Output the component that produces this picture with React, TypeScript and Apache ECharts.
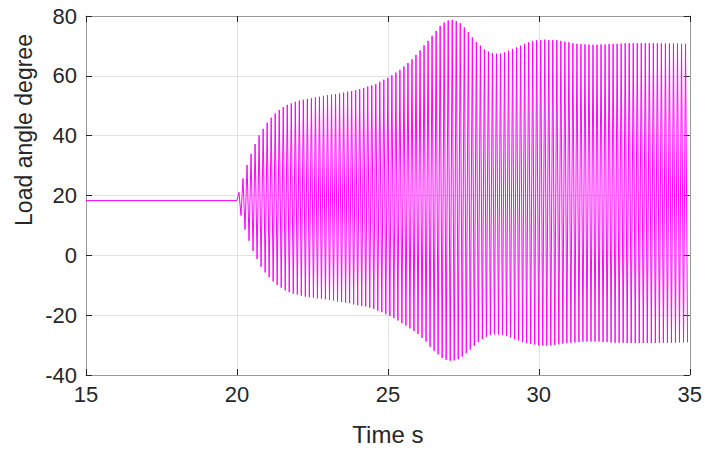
import React, { useEffect, useRef } from "react";
import * as echarts from "echarts";

// Steady state before the disturbance (time s, degrees)
const steadyTimes = [15, 20.0];
const steadyValues = [18.3, 18.3];

// Upper peaks of the oscillation (time s)
const peakTimes = [
  20.068, 20.201, 20.335, 20.468, 20.601, 20.734, 20.868, 21.001, 21.134, 21.267,
  21.401, 21.534, 21.667, 21.8, 21.934, 22.067, 22.2, 22.333, 22.467, 22.6,
  22.733, 22.866, 23.0, 23.133, 23.266, 23.4, 23.533, 23.666, 23.799, 23.933,
  24.066, 24.199, 24.332, 24.466, 24.599, 24.732, 24.865, 24.999, 25.132, 25.265,
  25.398, 25.532, 25.665, 25.798, 25.931, 26.065, 26.198, 26.331, 26.464, 26.598,
  26.731, 26.864, 26.998, 27.131, 27.264, 27.397, 27.531, 27.664, 27.797, 27.93,
  28.064, 28.197, 28.33, 28.463, 28.597, 28.73, 28.863, 28.996, 29.13, 29.263,
  29.396, 29.529, 29.663, 29.796, 29.929, 30.063, 30.196, 30.329, 30.462, 30.596,
  30.729, 30.862, 30.995, 31.129, 31.262, 31.395, 31.528, 31.662, 31.795, 31.928,
  32.061, 32.195, 32.328, 32.461, 32.594, 32.728, 32.861, 32.994, 33.128, 33.261,
  33.394, 33.527, 33.661, 33.794, 33.927, 34.06, 34.194, 34.327, 34.46, 34.593,
  34.727, 34.86,
];
// Upper peak values (degree)
const peakValues = [
  21.1, 25.7, 30.2, 33.9, 37.2, 40.1, 42.3, 44.3, 46.0, 47.4,
  48.6, 49.5, 50.3, 50.8, 51.3, 51.7, 52.0, 52.3, 52.5, 52.8,
  53.0, 53.3, 53.5, 53.7, 53.9, 54.1, 54.4, 54.7, 54.9, 55.2,
  55.6, 55.9, 56.4, 56.8, 57.2, 58.0, 58.7, 59.3, 60.2, 61.1,
  62.0, 63.1, 64.3, 65.5, 67.0, 68.5, 70.2, 71.7, 73.4, 75.0,
  76.7, 77.8, 78.5, 78.7, 78.3, 77.6, 76.2, 74.6, 72.9, 71.3,
  70.1, 68.8, 68.1, 67.6, 67.4, 67.5, 67.8, 68.4, 69.0, 69.5,
  70.1, 70.7, 71.2, 71.6, 71.9, 72.0, 72.1, 72.0, 72.0, 71.9,
  71.7, 71.4, 71.2, 70.9, 70.7, 70.6, 70.5, 70.4, 70.4, 70.4,
  70.5, 70.5, 70.6, 70.7, 70.7, 70.8, 70.9, 70.9, 70.9, 70.9,
  70.9, 70.9, 70.9, 70.9, 70.9, 70.8, 70.8, 70.8, 70.8, 70.8,
  70.7, 70.7,
];

// Lower troughs of the oscillation (time s)
const troughTimes = [
  20.134, 20.267, 20.401, 20.534, 20.667, 20.8, 20.934, 21.067, 21.2, 21.333,
  21.467, 21.6, 21.733, 21.866, 22.0, 22.133, 22.266, 22.399, 22.533, 22.666,
  22.799, 22.932, 23.066, 23.199, 23.332, 23.466, 23.599, 23.732, 23.865, 23.999,
  24.132, 24.265, 24.398, 24.532, 24.665, 24.798, 24.931, 25.065, 25.198, 25.331,
  25.464, 25.598, 25.731, 25.864, 25.997, 26.131, 26.264, 26.397, 26.53, 26.664,
  26.797, 26.93, 27.064, 27.197, 27.33, 27.463, 27.597, 27.73, 27.863, 27.996,
  28.13, 28.263, 28.396, 28.529, 28.663, 28.796, 28.929, 29.062, 29.196, 29.329,
  29.462, 29.595, 29.729, 29.862, 29.995, 30.129, 30.262, 30.395, 30.528, 30.662,
  30.795, 30.928, 31.061, 31.195, 31.328, 31.461, 31.594, 31.728, 31.861, 31.994,
  32.127, 32.261, 32.394, 32.527, 32.66, 32.794, 32.927, 33.06, 33.194, 33.327,
  33.46, 33.593, 33.727, 33.86, 33.993, 34.126, 34.26, 34.393, 34.526, 34.659,
  34.793, 34.926,
];
// Lower trough values (degree)
const troughValues = [
  13.3, 8.6, 4.9, 1.5, -1.2, -3.8, -5.7, -7.3, -8.7, -9.9,
  -10.8, -11.7, -12.3, -12.8, -13.1, -13.5, -13.8, -14.0, -14.1, -14.4,
  -14.5, -14.7, -14.9, -15.1, -15.4, -15.6, -15.8, -16.0, -16.4, -16.7,
  -16.9, -17.1, -17.5, -17.9, -18.5, -19.0, -19.7, -20.3, -21.0, -21.8,
  -22.7, -23.5, -24.4, -25.3, -26.3, -27.6, -28.8, -30.6, -31.9, -33.1,
  -34.3, -34.9, -35.2, -35.1, -34.7, -33.8, -32.7, -31.5, -30.2, -29.0,
  -28.0, -27.2, -26.6, -26.4, -26.4, -26.6, -27.0, -27.4, -28.0, -28.4,
  -29.0, -29.3, -29.6, -29.8, -30.1, -30.2, -30.2, -30.1, -29.9, -29.7,
  -29.5, -29.3, -29.2, -29.1, -29.0, -28.8, -28.8, -28.8, -28.8, -28.8,
  -29.0, -29.0, -29.1, -29.2, -29.2, -29.2, -29.3, -29.3, -29.3, -29.3,
  -29.3, -29.3, -29.3, -29.3, -29.2, -29.2, -29.2, -29.2, -29.2, -29.1,
  -29.1, -29.1,
];

const xTicks = [15, 20, 25, 30, 35];
const yTicks = [-40, -20, 0, 20, 40, 60, 80];
const xTitle = "Time s";
const yTitle = "Load angle degree";

export default function App() {
  const ref = useRef<HTMLDivElement>(null);

  useEffect(() => {
    if (!ref.current) return;
    document.body.style.margin = "0";
    document.body.style.overflow = "hidden";
    const chart = echarts.init(ref.current, null, { renderer: "svg" });

    const data: number[][] = [];
    steadyTimes.forEach((t, i) => data.push([t, steadyValues[i]]));
    const n = Math.min(peakTimes.length, troughTimes.length);
    for (let i = 0; i < n; i++) {
      data.push([peakTimes[i], peakValues[i]]);
      data.push([troughTimes[i], troughValues[i]]);
    }

    const font = "'Liberation Sans', Arial, Helvetica, sans-serif";
    const boxColor = "#9a9a9a";
    const tickColor = "#262626";
    const gridColor = "#e3e3e3";

    const xBase = {
      type: "value" as const,
      min: xTicks[0],
      max: xTicks[xTicks.length - 1],
      interval: 5,
      axisLine: { show: true, onZero: false, lineStyle: { color: boxColor, width: 1 } },
      axisTick: { show: true, inside: true, length: 6, lineStyle: { color: tickColor } },
    };
    const yBase = {
      type: "value" as const,
      min: yTicks[0],
      max: yTicks[yTicks.length - 1],
      interval: 20,
      axisLine: { show: true, onZero: false, lineStyle: { color: boxColor, width: 1 } },
      axisTick: { show: true, inside: true, length: 6, lineStyle: { color: tickColor } },
    };

    chart.setOption({
      animation: false,
      backgroundColor: "#ffffff",
      grid: { left: 86, right: 14, top: 16, bottom: 73, containLabel: false },
      graphic: [
        {
          type: "text",
          x: 24,
          y: 130,
          rotation: Math.PI / 2,
          style: {
            text: yTitle,
            fontFamily: font,
            fontSize: 23,
            fill: tickColor,
            align: "center",
            verticalAlign: "middle",
          },
        },
      ],
      xAxis: [
        {
          ...xBase,
          position: "bottom",
          name: xTitle,
          nameLocation: "middle",
          nameGap: 47,
          nameTextStyle: { fontFamily: font, fontSize: 24, color: tickColor },
          axisLabel: { show: true, fontFamily: font, fontSize: 22, color: tickColor, margin: 8 },
          splitLine: { show: true, lineStyle: { color: gridColor, width: 1 } },
        },
        {
          ...xBase,
          position: "top",
          axisLabel: { show: false },
          splitLine: { show: false },
        },
      ],
      yAxis: [
        {
          ...yBase,
          position: "left",
          axisLabel: { show: true, fontFamily: font, fontSize: 22, color: tickColor, margin: 9 },
          splitLine: { show: true, lineStyle: { color: gridColor, width: 1 } },
        },
        {
          ...yBase,
          position: "right",
          axisLabel: { show: false },
          splitLine: { show: false },
        },
      ],
      series: [
        {
          type: "line",
          data,
          xAxisIndex: 0,
          yAxisIndex: 0,
          showSymbol: false,
          symbol: "none",
          lineStyle: { color: "#ff00ff", width: 1 },
          itemStyle: { color: "#ff00ff" },
          silent: true,
        },
      ],
    });

    return () => chart.dispose();
  }, []);

  return (
    <div
      ref={ref}
      style={{ position: "absolute", left: 0, top: 0, width: 705, height: 451 }}
    />
  );
}
